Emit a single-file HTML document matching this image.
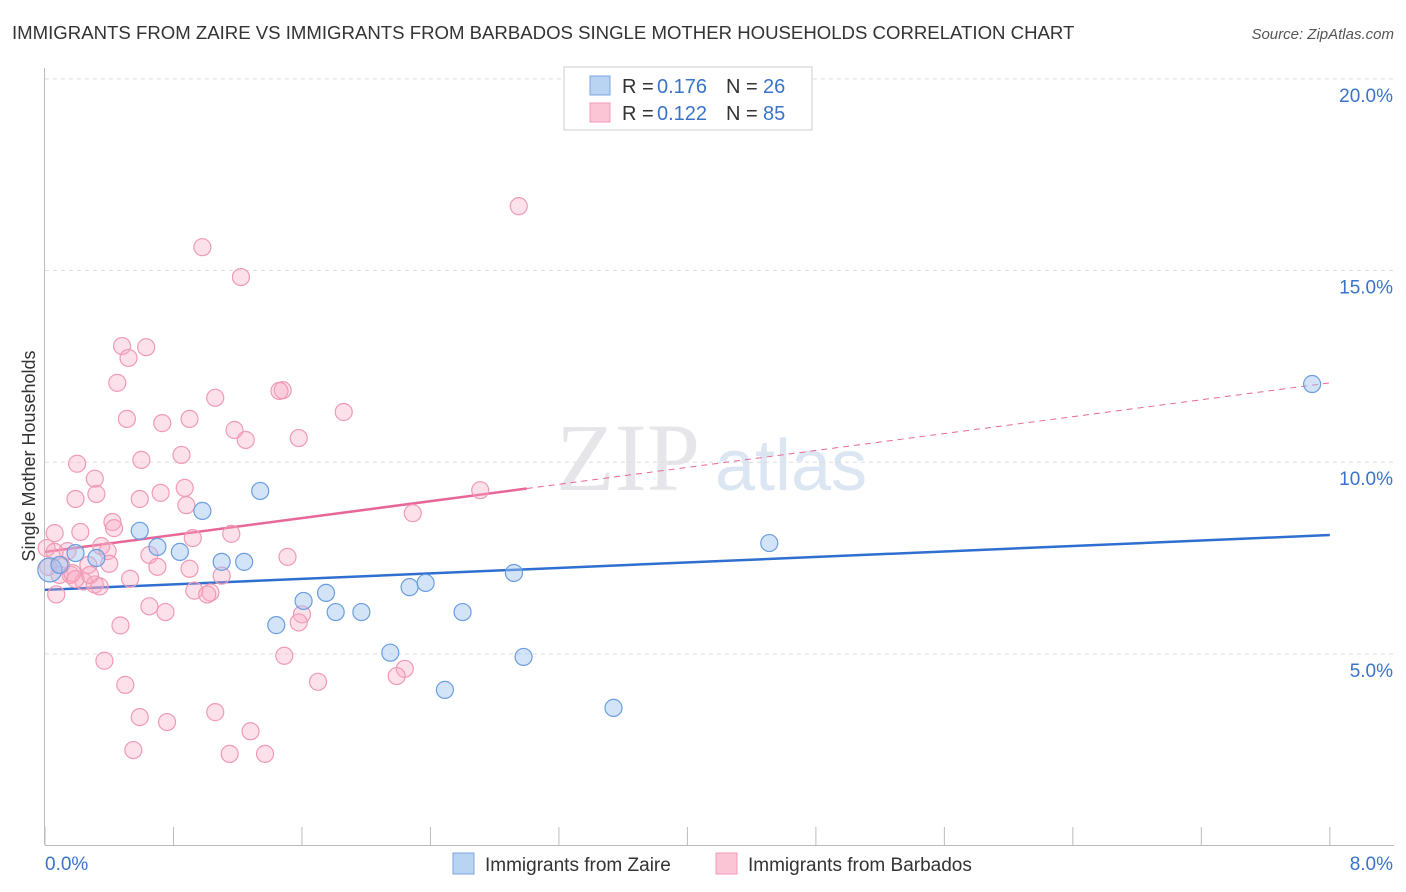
<!DOCTYPE html>
<html><head><meta charset="utf-8"><style>
body{margin:0;background:#fff;font-family:"Liberation Sans",sans-serif;}
svg{display:block}
</style></head><body>
<svg id="chart" width="1406" height="892" xmlns="http://www.w3.org/2000/svg">
<text x="12" y="39" font-size="18.6" fill="#333">IMMIGRANTS FROM ZAIRE VS IMMIGRANTS FROM BARBADOS SINGLE MOTHER HOUSEHOLDS CORRELATION CHART</text>
<text x="1394" y="39" font-size="15" fill="#555" font-style="italic" text-anchor="end">Source: ZipAtlas.com</text>
<text x="35" y="456" font-size="18" fill="#333" transform="rotate(-90 35 456)" text-anchor="middle">Single Mother Households</text>
<text x="700" y="490" font-size="96" fill="#e6e6ea" font-family="Liberation Serif" text-anchor="end">ZIP</text>
<text x="715" y="490" font-size="72" fill="#dce6f3">atlas</text>
<g id="grid"></g>
<g id="axes"></g>
<g id="lines"></g>
<g id="points"></g>
<g>
<rect x="564" y="67" width="248" height="63" fill="#fff" stroke="#ccc"/>
<rect x="590" y="76" width="20" height="19" fill="#b9d3f3" stroke="#7aa6df"/>
<rect x="590" y="103" width="20" height="19" fill="#fcc5d5" stroke="#f09ab4"/>
<text x="622" y="93" font-size="20" fill="#333">R =</text>
<text x="657" y="93" font-size="20" fill="#3a73c9">0.176</text>
<text x="726" y="93" font-size="20" fill="#333">N =</text>
<text x="763" y="93" font-size="20" fill="#3a73c9">26</text>
<text x="622" y="120" font-size="20" fill="#333">R =</text>
<text x="657" y="120" font-size="20" fill="#3a73c9">0.122</text>
<text x="726" y="120" font-size="20" fill="#333">N =</text>
<text x="763" y="120" font-size="20" fill="#3a73c9">85</text>
</g>
<g>
<rect x="453" y="853" width="21" height="21" fill="#b9d3f3" stroke="#7aa6df"/>
<text x="485" y="871" font-size="19" fill="#333">Immigrants from Zaire</text>
<rect x="716" y="853" width="21" height="21" fill="#fcc5d5" stroke="#f09ab4"/>
<text x="748" y="871" font-size="19" fill="#333">Immigrants from Barbados</text>
</g>
</svg>
<script>
const yTicks=[5,10,15,20];
const yTickLabels=["5.0%","10.0%","15.0%","20.0%"];
const xTicks=[0,0.8,1.6,2.4,3.2,4,4.8,5.6,6.4,7.2,8];
const zaireX=[7.89,1.34,0.98,0.59,0.70,0.84,0.32,1.10,1.24,0.19,2.92,2.27,2.37,1.75,1.61,1.81,1.97,2.60,1.44,2.15,2.98,2.49,3.54,4.51,0.03,0.09];
const zaireY=[12.04,9.25,8.73,8.21,7.79,7.66,7.50,7.40,7.40,7.63,7.11,6.74,6.85,6.59,6.38,6.09,6.09,6.09,5.75,5.03,4.92,4.06,3.59,7.89,7.19,7.32];
const barbX=[2.95,0.98,1.22,0.48,0.63,0.52,0.45,1.48,1.46,1.06,1.86,0.51,0.73,0.90,1.18,1.25,1.58,0.20,0.60,0.85,0.31,0.32,0.19,0.59,0.72,0.87,0.88,2.71,2.29,0.42,0.06,0.22,0.43,1.16,0.92,0.01,0.14,0.35,0.39,0.65,1.51,0.10,0.27,0.40,0.70,0.90,0.16,0.53,1.10,0.07,0.24,0.31,0.34,0.93,1.03,1.01,0.65,0.75,0.47,1.60,1.58,0.37,1.49,0.50,1.70,2.24,2.19,0.59,0.76,1.06,1.28,0.55,1.15,1.37,0.06,0.02,0.09,0.17,0.28,0.19];
const barbY=[16.68,15.61,14.83,13.03,13.0,12.72,12.07,11.88,11.86,11.68,11.31,11.13,11.02,11.13,10.84,10.58,10.63,9.96,10.06,10.19,9.57,9.17,9.04,9.04,9.2,9.33,8.88,9.27,8.67,8.44,8.15,8.18,8.28,8.13,8.02,7.76,7.68,7.81,7.68,7.58,7.53,7.32,7.32,7.35,7.27,7.22,7.06,6.96,7.04,6.55,6.89,6.81,6.76,6.65,6.60,6.55,6.24,6.09,5.74,6.03,5.82,4.82,4.95,4.19,4.27,4.61,4.42,3.35,3.22,3.48,2.98,2.49,2.39,2.39,7.66,7.27,7.06,7.11,7.06,6.95];
const zaireTrend=[6.67,8.1];
const barbTrend=[7.66,12.07];
const barbSolidEnd=3.0;
(function(){
const X=v=>45+v*160.6, Y=v=>845.5-v*38.33;
const NS="http://www.w3.org/2000/svg";
function mk(t,a,p){const e=document.createElementNS(NS,t);for(const k in a)e.setAttribute(k,a[k]);p.appendChild(e);return e;}
const grid=document.getElementById('grid'),axes=document.getElementById('axes'),lines=document.getElementById('lines'),pts=document.getElementById('points');
yTicks.forEach((t,i)=>{
 const l=mk('line',{x1:45,x2:1394,y1:Y(t),y2:Y(t),stroke:'#ddd','stroke-dasharray':'4,4'},grid);
 
 
 const tx=mk('text',{x:1393,y:Y(t)+23,'font-size':19,fill:'#3a73c9','text-anchor':'end'},axes);
 tx.textContent=yTickLabels[i];
 
 
});
const ya=mk('line',{x1:44.5,x2:44.5,y1:68,y2:845,stroke:'#bbb'},axes);


const xa=mk('line',{x1:45,x2:1394,y1:845.5,y2:845.5,stroke:'#bbb'},axes);


xTicks.forEach(t=>{
 const l=mk('line',{x1:X(t),x2:X(t),y1:827,y2:845,stroke:'#bbb'},axes);
 
 
});
const xl0=mk('text',{x:45,y:870,'font-size':19,fill:'#3a73c9'},axes);xl0.textContent='0.0%';


const xl1=mk('text',{x:1393,y:870,'font-size':19,fill:'#3a73c9','text-anchor':'end'},axes);xl1.textContent='8.0%';


const at=(tr,x)=>tr[0]+(tr[1]-tr[0])*x/8;
const bt=mk('line',{x1:X(0),y1:Y(at(zaireTrend,0)),x2:X(8),y2:Y(at(zaireTrend,8)),stroke:'#2f6fd0','stroke-width':2.5},lines);


const pt=mk('line',{x1:X(0),y1:Y(at(barbTrend,0)),x2:X(barbSolidEnd),y2:Y(at(barbTrend,barbSolidEnd)),stroke:'#e8679a','stroke-width':2.5},lines);


const pd=mk('line',{x1:X(barbSolidEnd),y1:Y(at(barbTrend,barbSolidEnd)),x2:X(8),y2:Y(at(barbTrend,8)),stroke:'#e8679a','stroke-width':1,'stroke-dasharray':'6,5'},lines);


barbX.forEach((x,i)=>{
 const c=mk('circle',{cx:X(x),cy:Y(barbY[i]),r:8.5,fill:'rgba(248,170,195,0.35)',stroke:'#f09ab4','stroke-width':1.2},pts);
 
 
});
zaireX.forEach((x,i)=>{
 const c=mk('circle',{cx:X(x),cy:Y(zaireY[i]),r:i==24?12:8.5,fill:'rgba(160,196,240,0.45)',stroke:'#6a9ee0','stroke-width':1.2},pts);
 
 
});
})();
</script>
</body></html>
